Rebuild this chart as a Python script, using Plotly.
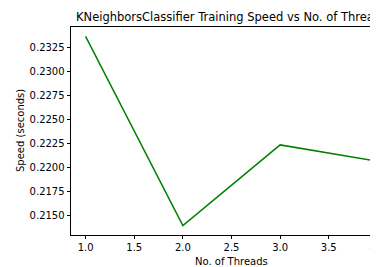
import plotly.graph_objects as go

threads = [1, 2, 3, 4]
speed = [0.2337, 0.2140, 0.2224, 0.2207]
x_ticks = [1.0, 1.5, 2.0, 2.5, 3.0, 3.5, 4.0]
y_ticks = [0.2150, 0.2175, 0.2200, 0.2225, 0.2250, 0.2275, 0.2300, 0.2325]

title = "KNeighborsClassifier Training Speed vs No. of Threads"
xlabel = "No. of Threads"
ylabel = "Speed (seconds)"

OFF = 8  # default page body margin
W, H = 378 - OFF, 267 - OFF
# target positions in window pixels
AX_L, AX_T, AX_B = 71, 27, 235
L, R, T = AX_L - OFF, 0, AX_T - OFF
B = H - (AX_B - OFF)
PW, PH = W - L - R, H - T - B

ymin, ymax = min(speed), max(speed)
pad = (ymax - ymin) * 0.05
xpad = (max(threads) - min(threads)) * 0.05
x0 = min(threads) - xpad
x_full_right = max(threads) + xpad
FULLW = 321.0
unit = FULLW / (x_full_right - x0)
x1 = max(x0 + PW / unit, max(threads) + 0.002)

font = "DejaVu Sans"
fig = go.Figure()
fig.add_trace(go.Scatter(x=threads, y=speed, mode="lines",
                         line=dict(color="#008000", width=1.5), hoverinfo="skip"))

axis_common = dict(showgrid=False, zeroline=False, showline=True, linecolor="#000",
                   linewidth=0.8, ticks="outside", ticklen=3.5, tickwidth=0.8,
                   tickcolor="#000", automargin=False, ticklabeloverflow="allow",
                   tickfont=dict(family=font, size=10, color="#000"))

fig.update_xaxes(range=[x0, x1], tickvals=x_ticks,
                 ticktext=[f"{v:.1f}" for v in x_ticks], mirror=True, **axis_common)
fig.update_yaxes(range=[ymin - pad, ymax + pad], tickvals=y_ticks,
                 ticktext=[f"{v:.4f}" for v in y_ticks], **axis_common)

cx = (FULLW / 2) / PW
fig.add_annotation(text=title, xref="paper", yref="paper",
                   x=cx, y=1 + (AX_T - 16.5) / PH,
                   xanchor="center", yanchor="middle", showarrow=False,
                   font=dict(family=font, size=11.5, color="#000"))
fig.add_annotation(text=xlabel, xref="paper", yref="paper",
                   x=cx, y=-(261 - AX_B) / PH,
                   xanchor="center", yanchor="middle", showarrow=False,
                   font=dict(family=font, size=10, color="#000"))
fig.add_annotation(text=ylabel, xref="paper", yref="paper",
                   x=-(AX_L - 20) / PW, y=0.5, textangle=-90,
                   xanchor="center", yanchor="middle", showarrow=False,
                   font=dict(family=font, size=10, color="#000"))

fig.update_layout(width=W, height=H, margin=dict(l=L, r=R, t=T, b=B, autoexpand=False),
                  paper_bgcolor="white", plot_bgcolor="white", showlegend=False)
fig.write_html("out.html")
